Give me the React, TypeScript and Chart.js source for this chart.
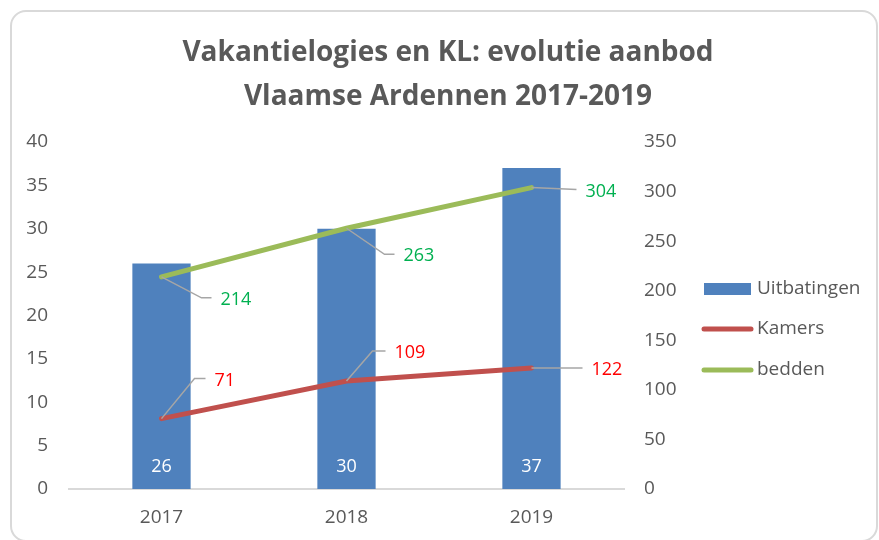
import React, { useEffect, useRef } from "react";
import { Chart, registerables } from "chart.js";

Chart.register(...registerables);

const CATEGORIES = ["2017", "2018", "2019"];
const UITBATINGEN = [26, 30, 37];
const KAMERS = [71, 109, 122];
const BEDDEN = [214, 263, 304];
const LEFT_MAX = 40;
const LEFT_STEP = 5;
const RIGHT_MAX = 350;
const RIGHT_STEP = 50;
const TITLE_LINES = ["Vakantielogies en KL: evolutie aanbod", "Vlaamse Ardennen 2017-2019"];

const FONT = "'Open Sans', 'Noto Sans', sans-serif";
const TEXT = "#595959";
const BAR_COLOR = "#4F81BD";
const KAMERS_COLOR = "#C0504D";
const BEDDEN_COLOR = "#9BBB59";
const KAMERS_LABEL = "#FF0000";
const BEDDEN_LABEL = "#00B050";
const LEADER = "#A6A6A6";

// leader-line geometry (style): elbow offset and horizontal tail
const KAMERS_LEADERS = [
  { dx: 33, dy: -40, h: 11 },
  { dx: 26, dy: -30, h: 13 },
  { dx: 51, dy: 0, h: 0 },
];
const BEDDEN_LEADERS = [
  { dx: 40, dy: 21, h: 10 },
  { dx: 38, dy: 26, h: 10 },
  { dx: 45, dy: 2, h: 0 },
];

const decorPlugin = {
  id: "decor",
  beforeDraw(chart: any) {
    const ctx = chart.ctx;
    ctx.save();
    ctx.fillStyle = "#ffffff";
    ctx.fillRect(0, 0, chart.width, chart.height);
    ctx.strokeStyle = "#D9D9D9";
    ctx.lineWidth = 2;
    ctx.beginPath();
    (ctx as any).roundRect(11, 11, 866, 530, 15);
    ctx.stroke();
    // title
    ctx.fillStyle = TEXT;
    ctx.font = `bold 28px ${FONT}`;
    ctx.textAlign = "center";
    ctx.textBaseline = "alphabetic";
    ctx.fillText(TITLE_LINES[0], 448, 61);
    ctx.fillText(TITLE_LINES[1], 448, 105);
    ctx.restore();
  },
  afterDatasetsDraw(chart: any) {
    const ctx = chart.ctx;
    ctx.save();
    ctx.font = `18px ${FONT}`;
    ctx.textBaseline = "middle";
    // bar labels
    const barMeta = chart.getDatasetMeta(0);
    ctx.fillStyle = "#ffffff";
    ctx.textAlign = "center";
    barMeta.data.forEach((el: any, i: number) => {
      ctx.fillText(String(UITBATINGEN[i]), el.x, el.base - 22);
    });
    // line labels with leaders
    const drawSeries = (idx: number, values: number[], leaders: any[], color: string) => {
      const meta = chart.getDatasetMeta(idx);
      meta.data.forEach((el: any, i: number) => {
        const l = leaders[i];
        const ex = el.x + l.dx;
        const ey = el.y + l.dy;
        ctx.strokeStyle = LEADER;
        ctx.lineWidth = 1.5;
        ctx.beginPath();
        ctx.moveTo(el.x, el.y);
        ctx.lineTo(ex, ey);
        ctx.lineTo(ex + l.h, ey);
        ctx.stroke();
        ctx.fillStyle = color;
        ctx.textAlign = "left";
        ctx.fillText(String(values[i]), ex + l.h + 9, ey + 2);
      });
    };
    drawSeries(1, KAMERS, KAMERS_LEADERS, KAMERS_LABEL);
    drawSeries(2, BEDDEN, BEDDEN_LEADERS, BEDDEN_LABEL);
    ctx.restore();
  },
  afterDraw(chart: any) {
    const ctx = chart.ctx;
    ctx.save();
    ctx.font = `19px ${FONT}`;
    ctx.textBaseline = "middle";
    ctx.textAlign = "left";
    ctx.fillStyle = TEXT;
    const ds = chart.data.datasets;
    const rows = [289, 329, 370];
    ds.forEach((d: any, i: number) => {
      const y = rows[i];
      if (d.type === "bar") {
        ctx.fillStyle = d.backgroundColor;
        ctx.fillRect(704, y - 6, 47, 12);
      } else {
        ctx.strokeStyle = d.borderColor;
        ctx.lineWidth = 5;
        ctx.lineCap = "round";
        ctx.beginPath();
        ctx.moveTo(704, y);
        ctx.lineTo(751, y);
        ctx.stroke();
      }
      ctx.fillStyle = TEXT;
      ctx.fillText(d.label, 757, y);
    });
    ctx.restore();
  },
};

export default function App() {
  const ref = useRef<HTMLCanvasElement>(null);
  useEffect(() => {
    if (!ref.current) return;
    const chart = new Chart(ref.current, {
      type: "bar",
      data: {
        labels: CATEGORIES,
        datasets: [
          {
            type: "bar",
            label: "Uitbatingen",
            data: UITBATINGEN,
            backgroundColor: BAR_COLOR,
            yAxisID: "y",
            categoryPercentage: 1,
            barPercentage: 0.315,
            order: 3,
          } as any,
          {
            type: "line",
            label: "Kamers",
            data: KAMERS,
            borderColor: KAMERS_COLOR,
            backgroundColor: KAMERS_COLOR,
            borderWidth: 5,
            pointRadius: 0,
            borderCapStyle: "round",
            yAxisID: "y1",
            order: 1,
          },
          {
            type: "line",
            label: "bedden",
            data: BEDDEN,
            borderColor: BEDDEN_COLOR,
            backgroundColor: BEDDEN_COLOR,
            borderWidth: 5,
            pointRadius: 0,
            borderCapStyle: "round",
            yAxisID: "y1",
            order: 0,
          },
        ],
      },
      options: {
        responsive: false,
        animation: false,
        layout: { padding: { top: 142, left: 0, right: 0, bottom: 0 } },
        plugins: {
          legend: { display: false },
          title: { display: false },
          tooltip: { enabled: false },
        },
        scales: {
          x: {
            grid: { display: false, drawTicks: false },
            border: { display: true, color: "#D9D9D9", width: 2 },
            ticks: { color: TEXT, font: { family: FONT, size: 19 }, padding: 17 },
            afterFit: (s: any) => {
              s.height = 51;
            },
          },
          y: {
            position: "left",
            min: 0,
            max: LEFT_MAX,
            grid: { display: false, drawTicks: false },
            border: { display: false },
            ticks: { stepSize: LEFT_STEP, color: TEXT, font: { family: FONT, size: 19 }, padding: 21 },
            afterFit: (s: any) => {
              s.width = 69;
            },
          },
          y1: {
            position: "right",
            min: 0,
            max: RIGHT_MAX,
            grid: { display: false, drawTicks: false },
            border: { display: false },
            ticks: { stepSize: RIGHT_STEP, color: TEXT, font: { family: FONT, size: 19 }, padding: 20 },
            afterFit: (s: any) => {
              s.width = 255;
            },
          },
        },
      } as any,
      plugins: [decorPlugin],
    });
    return () => chart.destroy();
  }, []);
  return (
    <div style={{ position: "fixed", left: 0, top: 0, width: 879, height: 540 }}>
      <canvas ref={ref} width={879} height={540} style={{ display: "block" }} />
    </div>
  );
}
